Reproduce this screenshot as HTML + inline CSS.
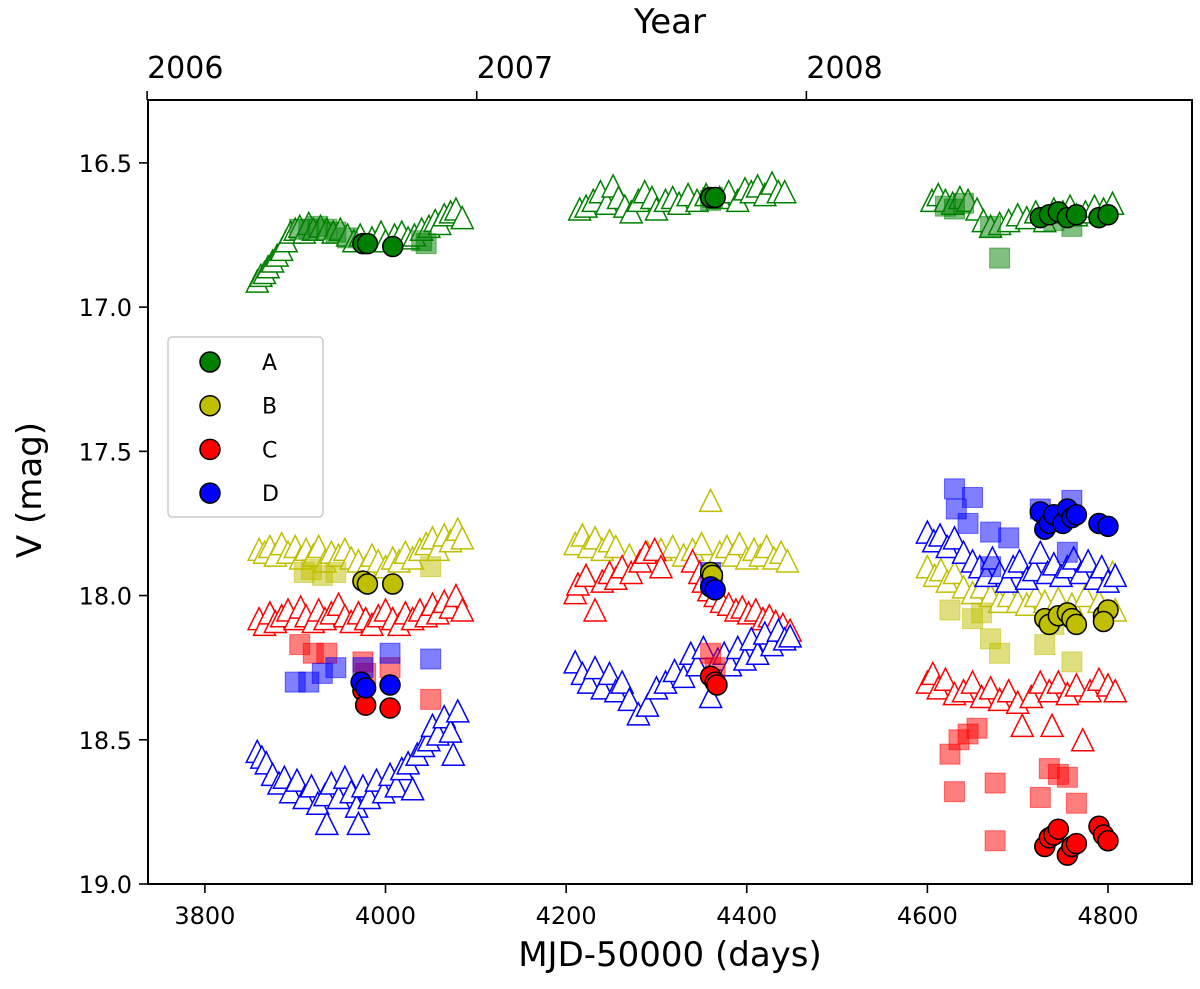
<!DOCTYPE html>
<html><head><meta charset="utf-8"><style>
body{margin:0;background:#fff;}
svg{display:block;font-family:"DejaVu Sans","Liberation Sans",sans-serif;}
</style></head><body>
<svg id="chart" width="1200" height="989" viewBox="0 0 1200 989" xmlns="http://www.w3.org/2000/svg">
<rect x="0" y="0" width="1200" height="989" fill="#fff"/>
<g id="marks"></g>
<g id="axes"></g>
</svg>
<script>
// ---- data (MJD-50000, V mag) ----
const xTicks = [3800, 4000, 4200, 4400, 4600, 4800];
const yTicks = [16.5, 17.0, 17.5, 18.0, 18.5, 19.0];
const yearTicks = [3736, 4101, 4466];
const yearLabels = ["2006", "2007", "2008"];
const components = ["A", "B", "C", "D"];
const colors = ["#008000", "#bfbf00", "#ff0000", "#0000ff"];

const triA_x = [3858,3862,3866,3870,3875,3880,3885,3890,3895,3900,3905,3910,3915,3920,3928,3935,3942,3950,3958,3965,3972,3985,3995,4000,4010,4018,4025,4032,4040,4048,4055,4060,4065,4072,4078,4085,
 4215,4222,4230,4238,4245,4252,4258,4265,4272,4280,4287,4295,4300,4310,4318,4325,4335,4345,4355,4370,4380,4390,4398,4405,4412,4420,4428,4435,4442,
 4605,4612,4620,4628,4636,4645,4655,4662,4670,4680,4690,4700,4710,4720,4730,4740,4750,4758,4765,4775,4785,4795,4805];
const triA_y = [16.91,16.89,16.88,16.86,16.84,16.82,16.8,16.77,16.74,16.73,16.72,16.74,16.71,16.73,16.72,16.73,16.74,16.73,16.75,16.77,16.75,16.76,16.74,16.77,16.75,16.74,16.76,16.75,16.73,16.72,16.7,16.71,16.68,16.67,16.66,16.69,
 16.66,16.65,16.63,16.6,16.64,16.58,16.62,16.65,16.67,16.63,16.6,16.62,16.66,16.63,16.62,16.64,16.61,16.63,16.61,16.62,16.6,16.63,16.59,16.6,16.58,16.61,16.57,16.6,16.6,
 16.63,16.61,16.63,16.64,16.62,16.63,16.66,16.7,16.72,16.71,16.7,16.68,16.69,16.67,16.7,16.66,16.67,16.65,16.68,16.67,16.65,16.66,16.64];

const triB_x = [3860,3866,3872,3878,3885,3892,3900,3906,3912,3920,3926,3933,3940,3948,3955,3962,3970,3978,3985,3992,4000,4008,4015,4022,4030,4038,4045,4052,4058,4065,4072,4080,4085,
 4210,4218,4225,4232,4240,4248,4255,4270,4290,4305,4318,4330,4340,4350,4360,4370,4378,4385,4392,4400,4408,4415,4422,4430,4438,4445,
 4600,4608,4615,4622,4630,4640,4650,4660,4670,4680,4690,4700,4710,4720,4730,4745,4760,4775,4790,4805,4808];
const triB_y = [17.84,17.85,17.83,17.86,17.82,17.85,17.83,17.87,17.84,17.86,17.83,17.88,17.85,17.86,17.84,17.87,17.88,17.9,17.86,17.88,17.9,17.87,17.88,17.85,17.87,17.84,17.82,17.8,17.84,17.79,17.81,17.77,17.8,
 17.82,17.79,17.83,17.8,17.84,17.81,17.83,17.86,17.85,17.84,17.83,17.86,17.84,17.82,17.67,17.85,17.83,17.86,17.82,17.87,17.84,17.86,17.83,17.87,17.85,17.88,
 17.9,17.93,17.91,17.95,17.92,17.97,17.99,17.97,18.0,18.02,18.0,18.02,18.03,18.0,18.02,18.01,18.03,18.0,18.02,17.92,18.05];

const triC_x = [3860,3866,3872,3878,3885,3892,3900,3906,3912,3920,3926,3933,3940,3948,3955,3962,3970,3978,3985,3992,4000,4008,4015,4022,4030,4038,4045,4052,4058,4065,4072,4078,4085,
 4210,4213,4222,4232,4240,4248,4255,4262,4272,4282,4288,4298,4305,4340,4348,4352,4358,4365,4372,4380,4388,4395,4402,4410,4418,4425,4432,4440,4448,
 4600,4606,4612,4620,4630,4640,4650,4660,4670,4680,4690,4700,4705,4715,4725,4735,4738,4745,4755,4765,4772,4780,4790,4800,4808];
const triC_y = [18.08,18.1,18.06,18.09,18.07,18.05,18.08,18.04,18.07,18.09,18.05,18.08,18.06,18.03,18.07,18.09,18.06,18.08,18.1,18.07,18.05,18.08,18.1,18.06,18.08,18.05,18.07,18.03,18.06,18.02,18.04,18.0,18.05,
 17.99,17.96,17.93,18.05,17.95,17.92,17.94,17.9,17.92,17.88,17.85,17.84,17.9,17.88,17.92,17.95,17.98,18.0,18.02,18.03,18.05,18.04,18.06,18.05,18.08,18.07,18.09,18.1,18.12,
 18.3,18.27,18.32,18.29,18.34,18.33,18.3,18.35,18.32,18.36,18.33,18.37,18.45,18.35,18.3,18.33,18.45,18.3,18.34,18.31,18.5,18.33,18.29,18.31,18.33];

const triD_x = [3858,3863,3868,3875,3882,3888,3895,3902,3910,3918,3925,3933,3935,3940,3948,3955,3962,3968,3970,3975,3982,3990,3998,4005,4012,4018,4025,4030,4035,4042,4048,4052,4058,4065,4072,4080,4075,
 4210,4218,4225,4232,4240,4248,4255,4262,4270,4280,4290,4300,4310,4320,4330,4338,4345,4352,4360,4368,4375,4382,4390,4398,4405,4412,4420,4428,4435,4442,4448,
 4600,4607,4614,4622,4630,4640,4650,4658,4665,4672,4680,4688,4695,4702,4710,4718,4725,4733,4740,4748,4755,4762,4770,4778,4786,4793,4800,4808];
const triD_y = [18.54,18.56,18.58,18.62,18.65,18.63,18.68,18.64,18.7,18.66,18.72,18.69,18.79,18.65,18.7,18.63,18.68,18.73,18.79,18.66,18.7,18.64,18.68,18.62,18.66,18.6,18.58,18.67,18.55,18.52,18.5,18.45,18.48,18.42,18.47,18.4,18.55,
 18.23,18.27,18.3,18.25,18.32,18.27,18.33,18.3,18.36,18.41,18.38,18.32,18.3,18.26,18.28,18.2,18.24,18.18,18.35,18.22,18.2,18.24,18.18,18.22,18.15,18.2,18.13,18.17,18.12,18.15,18.14,
 17.78,17.81,17.79,17.83,17.8,17.85,17.88,17.9,17.93,17.87,17.92,17.95,17.9,17.88,17.94,17.91,17.85,17.92,17.89,17.93,17.9,17.87,17.92,17.88,17.94,17.9,17.95,17.93];

const sqA_x = [3905,3915,3925,3935,3945,3958,4040,4045,4360,4362,4620,4630,4640,4670,4680,4740,4760];
const sqA_y = [16.73,16.73,16.72,16.73,16.74,16.76,16.77,16.78,16.63,16.62,16.65,16.66,16.64,16.72,16.83,16.7,16.72];
const sqB_x = [3910,3930,3945,3918,4050,4625,4650,4660,4670,4680,4730,4740,4760];
const sqB_y = [17.92,17.93,17.92,17.91,17.9,18.05,18.08,18.06,18.15,18.2,18.17,18.1,18.23];
const sqC_x = [3905,3920,3935,3975,3978,4005,4050,4360,4365,4625,4635,4645,4655,4630,4675,4675,4725,4735,4745,4755,4765];
const sqC_y = [18.17,18.2,18.2,18.23,18.27,18.25,18.36,18.2,18.25,18.55,18.5,18.48,18.46,18.68,18.65,18.85,18.7,18.6,18.62,18.63,18.72];
const sqD_x = [3900,3915,3930,3945,3975,4005,4050,4360,4362,4630,4650,4632,4645,4670,4690,4725,4760,4755,4670];
const sqD_y = [18.3,18.3,18.27,18.25,18.25,18.2,18.22,17.92,17.95,17.63,17.66,17.7,17.75,17.78,17.8,17.7,17.67,17.85,17.9];

const cirA_x = [3975,3980,4008,4360,4365,4725,4735,4745,4755,4765,4790,4800];
const cirA_y = [16.78,16.78,16.79,16.62,16.62,16.69,16.68,16.67,16.69,16.68,16.69,16.68];
const cirB_x = [3975,3980,4008,4360,4362,4730,4735,4745,4755,4760,4765,4795,4800,4795];
const cirB_y = [17.95,17.96,17.96,17.92,17.93,18.08,18.1,18.07,18.06,18.08,18.1,18.07,18.05,18.09];
const cirC_x = [3975,3978,4005,4360,4365,4367,4730,4735,4740,4745,4755,4760,4765,4790,4795,4800];
const cirC_y = [18.33,18.38,18.39,18.28,18.3,18.31,18.87,18.84,18.83,18.81,18.9,18.87,18.86,18.8,18.83,18.85];
const cirD_x = [3973,3978,4005,4360,4365,4725,4730,4735,4740,4750,4755,4760,4765,4790,4800];
const cirD_y = [18.3,18.32,18.31,17.97,17.98,17.71,17.77,17.75,17.72,17.75,17.7,17.73,17.72,17.75,17.76];

// ---- axis functions ----
const L = 148, R = 1192, T = 100, B = 884;
const X0 = 3737, X1 = 4893, Y0 = 16.282, Y1 = 19.0;
function sx(v){ return L + (v - X0) / (X1 - X0) * (R - L); }
function sy(v){ return T + (v - Y0) / (Y1 - Y0) * (B - T); }

const NS = "http://www.w3.org/2000/svg";
const marks = document.getElementById("marks");
const axes = document.getElementById("axes");
function mk(tag, attrs, parent){
  const e = document.createElementNS(NS, tag);
  for (const k in attrs) e.setAttribute(k, attrs[k]);
  parent.appendChild(e);
  return e;
}

const triX = [triA_x, triB_x, triC_x, triD_x], triY = [triA_y, triB_y, triC_y, triD_y];
const sqX = [sqA_x, sqB_x, sqC_x, sqD_x], sqY = [sqA_y, sqB_y, sqC_y, sqD_y];
const cX = [cirA_x, cirB_x, cirC_x, cirD_x], cY = [cirA_y, cirB_y, cirC_y, cirD_y];

for (let c = 0; c < 4; c++) {
  for (let i = 0; i < triX[c].length; i++) {
    const x = sx(triX[c][i]), y = sy(triY[c][i]), h = 11;
    const p = mk("polygon", {points: `${x},${y-h} ${x-h},${y+h} ${x+h},${y+h}`, fill: "#fff", stroke: colors[c], "stroke-width": 1.5}, marks);
    
    
  }
}
for (let c = 0; c < 4; c++) {
  for (let i = 0; i < sqX[c].length; i++) {
    const x = sx(sqX[c][i]), y = sy(sqY[c][i]);
    const s = mk("rect", {x: x-10, y: y-10, width: 20, height: 20, fill: colors[c], "fill-opacity": 0.5, stroke: colors[c], "stroke-opacity": 0.5}, marks);
    
    
  }
}
for (let c = 0; c < 4; c++) {
  for (let i = 0; i < cX[c].length; i++) {
    const ci = mk("circle", {cx: sx(cX[c][i]), cy: sy(cY[c][i]), r: 10, fill: colors[c], stroke: "#000", "stroke-width": 1.5}, marks);
    
    
  }
}

// frame
const fr = mk("rect", {x: L, y: T, width: R-L, height: B-T, fill: "none", stroke: "#000", "stroke-width": 2}, axes);



// x ticks
xTicks.forEach(v => {
  const x = sx(v);
  mk("line", {x1: x, y1: B, x2: x, y2: B+9, stroke: "#000", "stroke-width": 1.6}, axes);
  const t = mk("text", {x: x, y: B+40, "text-anchor": "middle", "font-size": 24}, axes);
  t.textContent = v;
  
  
});
// y ticks
yTicks.forEach(v => {
  const y = sy(v);
  mk("line", {x1: L-9, y1: y, x2: L, y2: y, stroke: "#000", "stroke-width": 1.6}, axes);
  const t = mk("text", {x: L-16, y: y+9, "text-anchor": "end", "font-size": 24}, axes);
  t.textContent = v.toFixed(1);
  
  
});
// year ticks
yearTicks.forEach((v, i) => {
  const x = sx(v);
  mk("line", {x1: x, y1: T-9, x2: x, y2: T, stroke: "#000", "stroke-width": 1.6}, axes);
  const t = mk("text", {x: x, y: T-22, "text-anchor": "start", "font-size": 30}, axes);
  t.textContent = yearLabels[i];
  
  
});

// legend
const lg = mk("g", {}, axes);


mk("rect", {x: 168, y: 337, width: 155, height: 180, rx: 4, fill: "#fff", "fill-opacity": 0.8, stroke: "#ccc", "stroke-width": 1.5}, lg);
components.forEach((n, i) => {
  const y = 362 + i * 43.7;
  const g = mk("g", {}, lg);
  
  
  mk("circle", {cx: 210, cy: y, r: 10, fill: colors[i], stroke: "#000", "stroke-width": 1.5}, g);
  const t = mk("text", {x: 262, y: y+8, "font-size": 22}, g);
  t.textContent = n;
});
</script>
<text></text>
<svg width="0" height="0"></svg>
<div style="position:absolute;left:0;top:0;width:1200px;height:989px;pointer-events:none;font-family:'DejaVu Sans','Liberation Sans',sans-serif;">
  <div style="position:absolute;left:0;width:1340px;top:935px;text-align:center;font-size:34px;">MJD-50000 (days)</div>
  <div style="position:absolute;left:0;width:1340px;top:2px;text-align:center;font-size:34px;">Year</div>
  <div style="position:absolute;left:-70px;top:470px;width:200px;text-align:center;font-size:34px;transform:rotate(-90deg);">V (mag)</div>
</div>
</body></html>
